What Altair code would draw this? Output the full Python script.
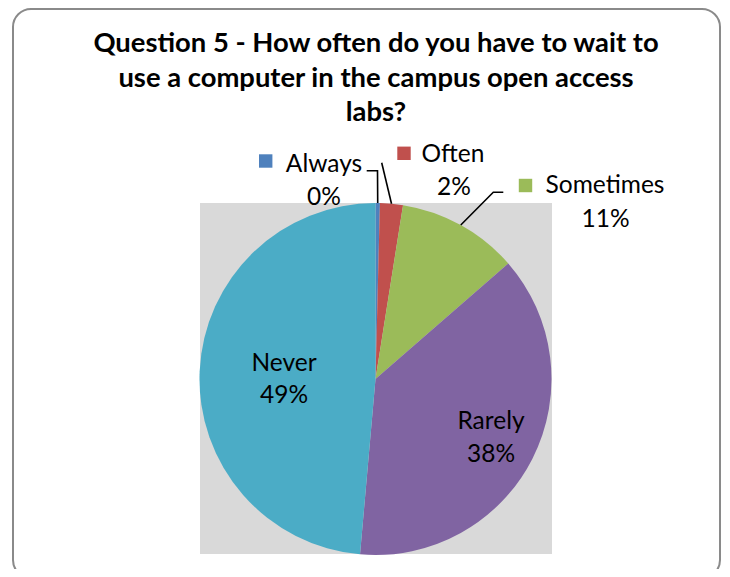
import math
import altair as alt
import pandas as pd

# ---- data ----
categories = ["Always", "Often", "Sometimes", "Rarely", "Never"]
values = [0.4, 2.1, 11.1, 37.8, 48.6]
colors = ["#4F81BD", "#C0504D", "#9BBB59", "#8064A2", "#4BACC6"]
title_lines = [
    "Question 5 - How often do you have to wait to",
    "use a computer in the campus open access",
    "labs?",
]
pct_labels = [f"{round(v)}%" for v in values]

# ---- layout (pixels in chart space) ----
W, H = 714, 561
CX, CY, R = 367.5, 371, 176
FONT = "Lato"

# label anchor: (name center x, name baseline y, pct center x, pct baseline y)
label_pos = {
    "Always": (316, 163.7, 316, 196.7),
    "Often": (445, 153.7, 446, 187),
    "Sometimes": (597, 185.3, 597.5, 218.7),
    "Never": (276, 363, 276, 395.3),
    "Rarely": (483, 421.3, 483, 453.7),
}
key_pos = {"Always": (257.7, 153), "Often": (396, 145.3), "Sometimes": (517.5, 177.5)}
leader_start = {
    "Always": [(358.7, 162.7), (369.5, 162.7)],
    "Often": [(373.7, 154.7)],
    "Sometimes": [(495.3, 184.3), (485.3, 184.3)],
}

df = pd.DataFrame({"category": categories, "value": values, "idx": range(len(categories))})
color_scale = alt.Scale(domain=categories, range=colors)

# slice mid angles (for leader line ends on the pie edge)
total = sum(values)
mid_angle = {}
cum = 0
for c, v in zip(categories, values):
    mid_angle[c] = (cum + v / 2) / total * 2 * math.pi
    cum += v

border = alt.Chart(pd.DataFrame({"a": [0]})).mark_rect(
    fill="white", stroke="#8A8A8A", strokeWidth=2, cornerRadius=18
).encode(x=alt.value(5), x2=alt.value(W - 2), y=alt.value(1), y2=alt.value(H + 9))

plot_bg = alt.Chart(pd.DataFrame({"a": [0]})).mark_rect(color="#D9D9D9").encode(
    x=alt.value(192), x2=alt.value(544), y=alt.value(195), y2=alt.value(546)
)

pie = alt.Chart(df).mark_arc(radius=R, stroke=None).encode(
    theta=alt.Theta("value:Q", stack=True),
    color=alt.Color("category:N", scale=color_scale, legend=None),
    order=alt.Order("idx:Q"),
    x=alt.value(CX),
    y=alt.value(CY),
)

# title
tdf = pd.DataFrame({"t": title_lines, "x": [368, 368, 368], "y": [44.3, 78.7, 113]})
title = alt.Chart(tdf).mark_text(
    font=FONT, fontSize=27.4, fontWeight="bold", color="black", align="center", baseline="alphabetic"
).encode(x=alt.X("x:Q", scale=None), y=alt.Y("y:Q", scale=None), text="t:N")

# labels
rows = []
for c, p in zip(categories, pct_labels):
    nx, ny, px, py = label_pos[c]
    rows.append({"t": c, "x": nx, "y": ny})
    rows.append({"t": p, "x": px, "y": py})
ldf = pd.DataFrame(rows)
labels = alt.Chart(ldf).mark_text(
    font=FONT, fontSize=24.5, color="black", align="center", baseline="alphabetic"
).encode(x=alt.X("x:Q", scale=None), y=alt.Y("y:Q", scale=None), text="t:N")

# legend keys
kdf = pd.DataFrame(
    [{"category": c, "x": key_pos[c][0], "y": key_pos[c][1]} for c in key_pos]
)
keys = alt.Chart(kdf).mark_square(size=180, opacity=1).encode(
    x=alt.X("x:Q", scale=None),
    y=alt.Y("y:Q", scale=None),
    color=alt.Color("category:N", scale=color_scale, legend=None),
)

# leader lines
lrows = []
for c, pts in leader_start.items():
    a = mid_angle[c]
    end = (CX + R * math.sin(a), CY - R * math.cos(a))
    for i, (x, y) in enumerate(pts + [end]):
        lrows.append({"category": c, "i": i, "x": x, "y": y})
ldf2 = pd.DataFrame(lrows)
leaders = alt.Chart(ldf2).mark_line(color="black", strokeWidth=1.6).encode(
    x=alt.X("x:Q", scale=None),
    y=alt.Y("y:Q", scale=None),
    detail="category:N",
    order="i:Q",
)

chart = alt.layer(border, plot_bg, pie, leaders, keys, title, labels).properties(
    width=W, height=H, padding=0, autosize="none", background="white"
).configure_view(stroke=None)

chart.save("out.html", embed_options={"renderer": "svg", "actions": False})
